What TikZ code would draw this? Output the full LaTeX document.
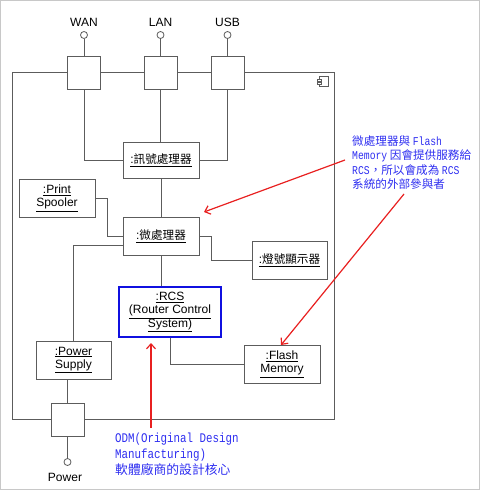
\documentclass[tikz,border=0pt]{standalone}
\usepackage{fontspec}
\setmainfont{Liberation Sans}
\newfontfamily\cjk{Noto Sans CJK TC}
\newfontfamily\monofam[FakeStretch=0.82]{Liberation Mono}
\usetikzlibrary{arrows.meta,calc}
\definecolor{linegray}{HTML}{5C5C5C}
\definecolor{framegray}{HTML}{C8C8C8}
\definecolor{rcsblue}{HTML}{1010E0}
\definecolor{noteblue}{HTML}{2E2EF0}
\definecolor{arrowred}{HTML}{E82020}
\newcommand\boxfont{\fontsize{12}{14}\selectfont}
\newcommand\mlA[1]{{\monofam\fontsize{11.9}{14.3}\selectfont #1}}
\newcommand\mlB[1]{{\monofam\fontsize{13.2}{16}\selectfont #1}}
\newcommand\ck[1]{{\cjk\fontsize{11.6}{14}\selectfont #1}}
\begin{document}
\begin{tikzpicture}[x=1pt,y=-1pt,
  conn/.style={draw=linegray, line width=0.8pt},
  part/.style={draw=linegray, fill=white, line width=0.8pt, inner sep=0pt, align=center, font=\boxfont},
  port/.style={draw=linegray, fill=white, line width=0.8pt, minimum width=33pt, minimum height=33pt, inner sep=0pt},
  jack/.style={circle, draw=linegray, fill=white, line width=0.8pt, minimum size=7pt, inner sep=0pt},
  plabel/.style={font=\boxfont, inner sep=0pt},
  note/.style={text=noteblue, align=left, inner sep=0pt, anchor=north west},
  callout/.style={draw=arrowred, line width=1.2pt, -{Straight Barb[length=5pt,width=9pt]}}
]
\useasboundingbox (0,0) rectangle (480,490);
\draw[framegray, line width=1pt] (0.5,0.5) rectangle (479.5,489.5);

% component frame
\node[draw=linegray, line width=0.8pt, minimum width=322pt, minimum height=347pt, inner sep=0pt] (comp) at (173,245.5) {};
% component icon
\draw[linegray, line width=0.6pt, fill=white] ($(comp.north east)+(-15,5)$) rectangle ($(comp.north east)+(-6,15)$);
\draw[linegray, line width=0.6pt, fill=white] ($(comp.north east)+(-17,7.5)$) rectangle ($(comp.north east)+(-13,9.5)$);
\draw[linegray, line width=0.6pt, fill=white] ($(comp.north east)+(-17,11)$) rectangle ($(comp.north east)+(-13,13)$);

% ports
\node[port] (wanport) at (84,72.5) {};
\node[port] (lanport) at (160.5,72.5) {};
\node[port] (usbport) at (227.5,72.5) {};
\node[port] (pwrport) at (67.5,420) {};
\node[jack] (wanc) at (84,35) {};
\node[jack] (lanc) at (160.5,35) {};
\node[jack] (usbc) at (227.5,35) {};
\node[jack] (pwrc) at (67.5,462) {};
\node[plabel] (wanl) at (84,22) {WAN};
\node[plabel] (lanl) at (160.5,22) {LAN};
\node[plabel] (usbl) at (227.5,22) {USB};
\node[plabel] (pwrl) at (65,477) {Power};

% parts
\node[part, minimum width=76pt, minimum height=36pt] (sig) at (161,160) {\underline{:\ck{訊號處理器}}};
\node[part, minimum width=76pt, minimum height=38pt] (spool) at (57,198) {\underline{:Print}\\[-0.5pt]\underline{Spooler}};
\node[part, minimum width=76pt, minimum height=38pt] (micro) at (161,236) {\underline{:\ck{微處理器}}};
\node[part, minimum width=75pt, minimum height=38pt] (led) at (289.5,260) {\underline{:\ck{燈號顯示器}}};
\node[part, draw=rcsblue, line width=1.6pt, minimum width=102pt, minimum height=50pt] (rcs) at (170,312) {\underline{:RCS}\\[-0.5pt]\underline{(Router Control}\\[-0.5pt]\underline{System)}};
\node[part, minimum width=76pt, minimum height=38pt] (flash) at (282,364) {\underline{:Flash}\\[-0.5pt]\underline{Memory}};
\node[part, minimum width=75pt, minimum height=38pt] (psu) at (73.5,360) {\underline{:Power}\\[-0.5pt]\underline{Supply}};

% connectors
\draw[conn] (wanc) -- (wanport);
\draw[conn] (lanc) -- (lanport);
\draw[conn] (usbc) -- (usbport);
\draw[conn] (pwrport) -- (pwrc);
\draw[conn] (wanport.south) |- (sig.west);
\draw[conn] (lanport.south) -- (lanport.south |- sig.north);
\draw[conn] (usbport.south) |- (sig.east);
\draw[conn] (sig.south) -- (micro.north);
\draw[conn] (spool.east) -- ++(12,0) |- (micro.west);
\draw[conn] ($(micro.west)+(0,9)$) -| (psu.north);
\draw[conn] (micro.east) -- ++(12,0) |- (led.west);
\draw[conn] (micro.south) -- (micro.south |- rcs.north);
\draw[conn] (rcs.south) |- (flash.west);
\draw[conn] (pwrport.north) -- (pwrport.north |- psu.south);

% notes
\node[note, font=\fontsize{11.6}{14.3}\selectfont\cjk] (note1) at (352,135.5) {微處理器與 \mlA{Flash}\\\mlA{Memory} 因會提供服務給\\\mlA{RCS}，所以會成為 \mlA{RCS}\\系統的外部參與者};
\node[note, font=\fontsize{12.8}{16}\selectfont\cjk] (note2) at (115,433) {\mlB{ODM(Original Design}\\\mlB{Manufacturing)}\\軟體廠商的設計核心};

\coordinate (a1s) at (345,160);
\coordinate (a1e) at (204,212);
\coordinate (a2s) at (404,194);
\coordinate (a2e) at (281,345);
\coordinate (a3s) at (151,428);
\coordinate (a3e) at (151,343);
\draw[callout] (a1s) -- (a1e);
\draw[callout] (a2s) -- (a2e);
\draw[callout] (a3s) -- (a3e);
\end{tikzpicture}
\end{document}
